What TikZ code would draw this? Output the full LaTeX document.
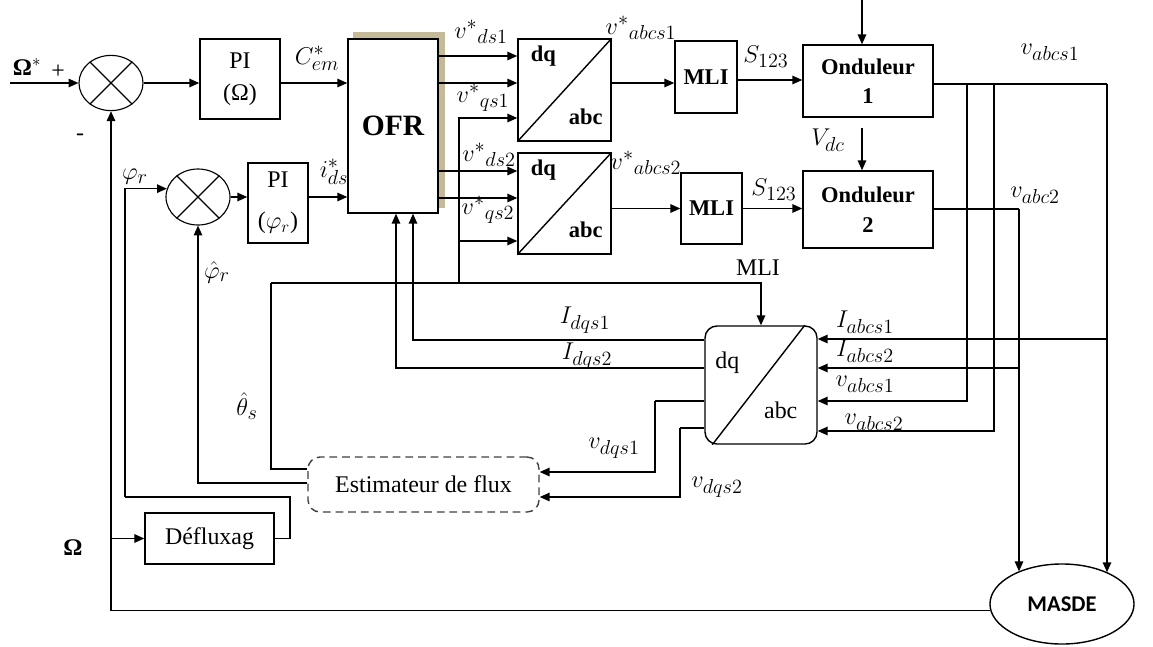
\documentclass[tikz,border=0pt]{standalone}
\usepackage{fontspec}
\setmainfont{Liberation Serif}
\newfontfamily\machfont{Carlito}
\usetikzlibrary{shapes.geometric, arrows.meta, positioning, calc, backgrounds}
\definecolor{ombre}{HTML}{C5BA98}

\begin{document}
\begin{tikzpicture}[
    x=0.025cm, y=-0.025cm,
    every node/.style={font=\fontsize{17}{20}\selectfont, inner sep=0pt},
    blk/.style={rectangle, draw, line width=1pt, fill=white, align=center},
    bblk/.style={blk, font=\fontsize{16}{19}\selectfont\bfseries},
    som/.style={ellipse, draw, line width=0.8pt, minimum width=1.6cm, minimum height=1.38cm},
    arr/.style={-{Triangle[length=7pt, width=6pt]}, line width=1pt},
    lnk/.style={line width=1pt},
    bfq/.style={font=\fontsize{16}{19}\selectfont\bfseries},
    lbl/.style={font=\fontsize{19}{22}\selectfont}
]
\useasboundingbox (0,0) rectangle (1153,646);

\node[som] (sum1) at (111,83) {};
\draw[line width=0.8pt] (sum1.45) -- (sum1.225) (sum1.135) -- (sum1.315);
\node[blk, minimum width=2cm, minimum height=2cm] (pi1) at (240,79) {PI\\[3pt](Ω)};
\node[blk, minimum width=2.25cm, minimum height=4.35cm, font=\fontsize{21}{24}\selectfont\bfseries] (ofr) at (393,126) {OFR};
\begin{scope}[on background layer]
  \fill[ombre] ([shift={(6,-6)}]ofr.south west) rectangle ([shift={(6,-6)}]ofr.north east);
\end{scope}
\node[blk, minimum width=2.325cm, minimum height=2.55cm] (dq1) at (564.5,90) {};
\node[blk, minimum width=2.325cm, minimum height=2.525cm] (dq2) at (564.5,203.5) {};
\foreach \b in {dq1,dq2}{
  \draw[lnk] (\b.south west) -- (\b.north east);
  \node[bfq] (\b d) at ([shift={(26,18)}]\b.north west) {dq};
  \node[bfq] (\b a) at ([shift={(-26,-25)}]\b.south east) {abc};
}
\node[bblk, minimum width=1.55cm, minimum height=1.8cm] (mli1) at (706,77) {MLI};
\node[bblk, minimum width=1.525cm, minimum height=1.775cm] (mli2) at (711.5,208.5) {MLI};
\node[bblk, minimum width=3.25cm, minimum height=1.8cm] (ond1) at (868,81) {Onduleur\\[2pt]1};
\node[bblk, minimum width=3.25cm, minimum height=1.925cm] (ond2) at (868,209.5) {Onduleur\\[2pt]2};

\node[som, minimum height=1.4cm] (sum2) at (198,197) {};
\draw[line width=0.8pt] (sum2.45) -- (sum2.225) (sum2.135) -- (sum2.315);
\node[blk, minimum width=1.5cm, minimum height=2cm] (pi2) at (278,203) {PI\\[9pt]($\varphi_r$)};
\node[blk, rounded corners=0.3cm, minimum width=2.8cm, minimum height=2.95cm] (dq3) at (761,385) {};
\draw[lnk] ([shift={(8,0)}]dq3.south west) -- ([shift={(-13,0)}]dq3.north east);
\node (dq3d) at ([shift={(23,37)}]dq3.north west) {dq};
\node (dq3a) at ([shift={(-37,-34)}]dq3.south east) {abc};
\node[blk, draw=black!75, dash pattern=on 5.5pt off 3.5pt, rounded corners=0.3cm, minimum width=5.775cm, minimum height=1.375cm] (est) at (423.5,484.5) {Estimateur de flux};
\node[blk, minimum width=3.225cm, minimum height=1.275cm] (defl) at (209.5,538.5) {Défluxag};
\node[ellipse, draw, line width=1pt, minimum width=3.6cm, minimum height=2cm, font=\machfont\bfseries\fontsize{16}{19}\selectfont] (masde) at (1062,604) {MASDE};

\coordinate (oin) at (10,83);
\coordinate (vtop) at (862,0);
\coordinate (vdc) at (862,128);
\coordinate (n1) at (1107,84);
\coordinate (n2) at (1019,209);
\coordinate (n3) at (967,84);
\coordinate (n4) at (994,84);
\coordinate (th1) at (271,283);
\coordinate (th2) at (459,283);
\coordinate (q1) at (655,401);
\coordinate (q2) at (680,428);
\coordinate (df1) at (290,497);
\coordinate (df2) at (125,497);

\draw[arr] (oin) -- (sum1.west);
\draw[arr] (sum1) -- (pi1.west |- sum1);
\draw[arr] (pi1.east |- sum1) -- (ofr.west |- sum1);
\draw[arr] (sum2.east) -- (pi2.west |- sum2.east);
\draw[arr] (pi2.east |- sum2.east) -- (ofr.west |- sum2.east);
\foreach \yy in {56,83} \draw[arr] (ofr.east |- 0,\yy) -- (dq1.west |- 0,\yy);
\foreach \yy in {171,198} \draw[arr] (ofr.east |- 0,\yy) -- (dq2.west |- 0,\yy);
\draw[arr] (dq1.east |- 0,83) -- (mli1.west |- 0,83);
\draw[arr] (mli1.east |- 0,80) -- (ond1.west |- 0,80);
\draw[arr] (dq2.east |- mli2) -- (mli2.west);
\draw[arr] (mli2.east) -- (ond2.west |- mli2);
\draw[arr] (vtop) -- (ond1.north -| vtop);
\draw[arr] (vdc) -- (ond2.north -| vdc);

\draw[lnk] (ond1.east |- n1) -- (n1);
\draw[arr] (n1) -- (masde.35 -| n1);
\draw[lnk] (ond2.east |- n2) -- (n2);
\draw[arr] (n2) -- (masde.143 -| n2);
\draw[arr] (n3) |- (dq3.east |- 0,401);
\draw[arr] (n4) |- (dq3.east |- 0,431);
\draw[arr] (n1 |- 0,339) -- (dq3.east |- 0,339);
\draw[arr] (n2 |- 0,368) -- (dq3.east |- 0,368);

\draw[lnk] (est.west |- 0,469) -| (th1);
\draw[arr] (th1) -| (dq3.north);
\draw[arr] (th2) |- (dq1.west |- 0,118);
\draw[arr] (th2 |- 0,241) -- (dq2.west |- 0,241);
\draw[arr] (est.west |- 0,483) -| (sum2.south);
\draw[arr] (masde.185) -| (sum1.south);
\draw[arr] (sum1.south |- defl) -- (defl.west);
\draw[lnk] (defl.east) -| (df1) -- (df2);
\draw[arr] (df2) |- (sum2.165);
\draw[arr] (dq3.west |- 0,340) -| ([shift={(20,0)}]ofr.south);
\draw[arr] (dq3.west |- 0,368) -| ([shift={(3,0)}]ofr.south);
\draw[lnk] (dq3.west |- q1) -- (q1);
\draw[arr] (q1) |- (est.east |- 0,472);
\draw[lnk] (dq3.west |- q2) -- (q2);
\draw[arr] (q2) |- (est.east |- 0,497);

\node (lomr) at (27,67) {\textbf{Ω}$^{*}$};
\node (lplus) at (58,72) {+};
\node (lminus) at (80,137) {-};
\node[lbl] (lcem) at (317,58) {$C^{*}_{em}$};
\node[lbl] (lvds1) at (481,32) {$v^{*}{}_{ds1}$};
\node[lbl] (lvqs1) at (483,98) {$v^{*}{}_{qs1}$};
\node[lbl] (lvds2) at (489,155) {$v^{*}{}_{ds2}$};
\node[lbl] (lvqs2) at (488,210) {$v^{*}{}_{qs2}$};
\node[lbl] (lvref1) at (641,28) {$v^{*}{}_{abcs1}$};
\node[lbl] (lvref2) at (646,163) {$v^{*}{}_{abcs2}$};
\node[lbl] (ls1) at (766,57) {$S_{123}$};
\node[lbl] (ls2) at (774,190) {$S_{123}$};
\node[lbl] (lvdc) at (828,140) {$V_{dc}$};
\node[lbl] (lvo1) at (1050,52) {$v_{abcs1}$};
\node[lbl] (lvo2) at (1035,195) {$v_{abc2}$};
\node[lbl] (lphir) at (135,177) {$\varphi_r$};
\node[lbl] (lphih) at (217,272) {$\hat{\varphi}_r$};
\node[lbl] (lids) at (334,172) {$i^{*}_{ds}$};
\node[lbl] (lth) at (247,406) {$\hat{\theta}_s$};
\node (lmli) at (758,268) {MLI};
\node[lbl] (lidq1) at (585,320) {$I_{dqs1}$};
\node[lbl] (lidq2) at (587,356) {$I_{dqs2}$};
\node[lbl] (liab1) at (865,322) {$I_{abcs1}$};
\node[lbl] (liab2) at (865,351) {$I_{abcs2}$};
\node[lbl] (lvab1) at (865,384) {$v_{abcs1}$};
\node[lbl] (lvab2) at (874,422) {$v_{abcs2}$};
\node[lbl] (lvdq1) at (614,448) {$v_{dqs1}$};
\node[lbl] (lvdq2) at (717,487) {$v_{dqs2}$};
\node (lom) at (73,548) {\textbf{Ω}};
\end{tikzpicture}
\end{document}
